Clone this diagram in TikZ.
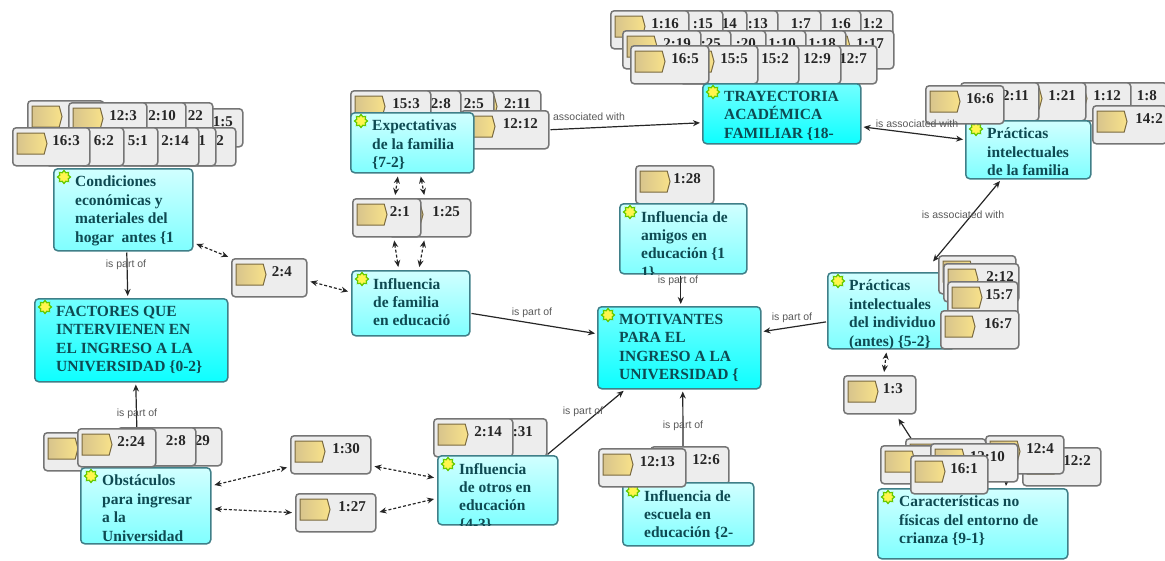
\documentclass[tikz,border=0pt]{standalone}
\usepackage{fontspec}
\setmainfont{Liberation Serif}
\newfontfamily\linkfont{Liberation Sans}
\usetikzlibrary{arrows.meta,backgrounds,shapes.geometric,shapes.symbols}

\definecolor{conceptink}{HTML}{0E4A52}
\definecolor{conceptedge}{HTML}{3F7F88}
\definecolor{quoteedge}{HTML}{757575}
\definecolor{iconedge}{HTML}{7A6A40}
\definecolor{iconleft}{HTML}{D8C48C}
\definecolor{iconright}{HTML}{F8E28A}

\tikzset{
    quotenode/.style={draw=quoteedge, line width=1.5pt, rounded corners=3.5pt, fill=black!7, anchor=north west, minimum height=38pt, inner sep=0pt},
    quoteicon/.style={signal, signal to=east, signal pointer angle=150, draw=iconedge, line width=1pt, left color=iconleft, right color=iconright, minimum width=30pt, minimum height=21pt, inner sep=0pt, anchor=north west},
    quotelabel/.style={font=\bfseries\fontsize{15}{18}\selectfont, text=black!85, anchor=east, inner sep=0pt},
    conceptnode/.style={draw=conceptedge, line width=1.5pt, rounded corners=4pt, anchor=north west, inner sep=0pt},
    conceptsun/.style={star, star points=8, star point ratio=1.4, draw=black!35!green!60!yellow, line width=1.2pt, fill=yellow!70, minimum size=13pt, inner sep=0pt},
    conceptlabel/.style={font=\bfseries\fontsize{15.5}{18.4}\selectfont, text=conceptink, anchor=north west, align=left, inner sep=0pt},
    palecell/.style={top color=cyan!18, bottom color=cyan!50},
    brightcell/.style={top color=cyan!55, bottom color=cyan!95},
    linklabel/.style={font=\linkfont\fontsize{10.5}{12}\selectfont, text=black!65, inner sep=0pt},
    partlink/.style={-{Stealth[length=7pt,width=6pt]}, line width=1.2pt, draw=black!85, shorten >=2pt, shorten <=1pt},
    assoclink/.style={{Stealth[length=7pt,width=6pt]}-{Stealth[length=7pt,width=6pt]}, line width=1.2pt, draw=black!85, shorten >=2pt, shorten <=2pt},
    quotelink/.style={assoclink, densely dashed, shorten >=3pt, shorten <=3pt},
}

% [label gap]{name}{left}{top}{right}{label}
\newcommand{\quotebox}[6][9]{
    \node [quotenode, minimum width={(#5-#3)*1pt}] (#2) at (#3,#4) {};
    \node [quoteicon] (#2i) at (#3+4.5,#4+5.5) {};
    \node [quotelabel] (#2t) at (#5-#1,#4+13.5) {#6};
}
% {name}{left}{top}{right}{bottom}{fill style}{text}
\newcommand{\conceptbox}[7]{
    \node [conceptnode, #6, minimum width={(#4-#2)*1pt}, minimum height={(#5-#3)*1pt}] (#1) at (#2,#3) {};
    \begin{scope}
        \clip [rounded corners=4pt] (#1.south west) rectangle (#1.north east);
        \node [conceptlabel] (#1t) at (#2+22,#3+8) {#7};
    \end{scope}
    \node [conceptsun] (#1s) at (#2+11,#3+9) {};
}

\begin{document}
\begin{tikzpicture}[x=1pt, y=-1pt]
        \useasboundingbox (0,0) rectangle (1165,560);

        % Top row
        \quotebox{qa}{814}{10}{892}{1:2}
        \quotebox{qb}{782}{10}{860}{1:6}
        \quotebox{qc}{742}{10}{820}{1:7}
        \quotebox{qd}{699}{10}{777}{:13}
        \quotebox{qe}{668}{10}{746}{14}
        \quotebox{qf}{644}{10}{722}{:15}
        \quotebox{qg}{610}{10}{688}{1:16}
        \quotebox{qh}{815}{30}{893}{1:17}
        \quotebox{qi}{767}{30}{845}{1:18}
        \quotebox{qj}{727}{30}{805}{1:10}
        \quotebox{qk}{687}{30}{765}{:20}
        \quotebox{ql}{652}{30}{730}{:25}
        \quotebox{qm}{622}{30}{700}{2:19}
        \quotebox{qn}{798}{45}{876}{12:7}
        \quotebox{qo}{762}{45}{840}{12:9}
        \quotebox{qp}{720}{45}{798}{15:2}
        \quotebox{qq}{679}{45}{757}{15:5}
        \quotebox{qr}{630}{45}{708}{16:5}
        \conceptbox{trayectoria}{702}{83}{860}{143}{brightcell}{TRAYECTORIA\\ACADÉMICA\\FAMILIAR \{18-}

        % Left cluster
        \quotebox{ra}{164}{108}{242}{1:5}
        \quotebox{rb}{134}{102}{212}{22}
        \quotebox{rc}{107}{102}{185}{2:10}
        \quotebox{rd}{27}{100}{103}{}
        \quotebox{re}{68}{102}{146}{12:3}
        \quotebox[11]{rf}{157}{127}{235}{2}
        \quotebox{rg}{137}{127}{215}{1}
        \quotebox{rh}{120}{127}{198}{2:14}
        \quotebox{ri}{79}{127}{157}{5:1}
        \quotebox{rj}{45}{127}{123}{6:2}
        \quotebox{rk}{12}{127}{89}{16:3}
        \conceptbox{condiciones}{53}{168}{192}{250}{palecell}{Condiciones\\económicas y\\materiales del\\hogar\ \ antes \{1}
        \conceptbox{factores}{34}{298}{227}{381}{brightcell}{FACTORES QUE\\INTERVIENEN EN\\EL INGRESO A LA\\UNIVERSIDAD \{0-2\}}
        \quotebox[14]{qdos}{231}{258}{306}{2:4}

        % Family cluster
        \quotebox{sa}{462}{90}{540}{2:11}
        \quotebox{sb}{415}{90}{493}{2:5}
        \quotebox{sc}{382}{90}{460}{2:8}
        \quotebox[10]{sd}{350}{90}{430}{15:3}
        \quotebox[10]{se}{460}{110}{548}{12:12}
        \conceptbox{expectativas}{350}{112}{473}{172}{palecell}{Expectativas\\de la familia\\\{7-2\}}
        \quotebox[10]{qcinco}{388}{198}{470}{1:25}
        \quotebox[10]{quno}{352}{198}{420}{2:1}
        \conceptbox{familia}{351}{270}{469}{335}{palecell}{Influencia\\de familia\\en educació}

        % Motivantes
        \quotebox[12]{qamigos}{635}{165}{713}{1:28}
        \conceptbox{amigos}{619}{203}{746}{273}{palecell}{Influencia de\\amigos en\\educación \{1\\1\}}
        \conceptbox{motivantes}{597}{306}{760}{388}{brightcell}{MOTIVANTES\\PARA EL\\INGRESO A LA\\UNIVERSIDAD \{}

        % Right cluster
        \quotebox{ta}{1088}{82}{1166}{1:8}
        \quotebox{tb}{1052}{82}{1130}{1:12}
        \quotebox{tc}{1007}{82}{1085}{1:21}
        \quotebox{td}{960}{82}{1038}{2:11}
        \conceptbox{practicas}{965}{120}{1090}{178}{palecell}{Prácticas\\intelectuales\\de la familia}
        \quotebox{te}{925}{85}{1003}{16:6}
        \quotebox[3]{tf}{1092}{105}{1166}{14:2}
        \conceptbox{individuo}{827}{272}{955}{348}{palecell}{Prácticas\\intelectuales\\del individuo\\(antes) \{5-2\}}
        \quotebox{ua}{938}{255}{1015}{}
        \quotebox[4]{ub}{943}{263}{1018}{2:12}
        \quotebox[4]{uc}{947}{281}{1017}{15:7}
        \quotebox[6]{ud}{940}{310}{1018}{16:7}
        \quotebox[12]{qtres}{843}{375}{915}{1:3}

        % Bottom right
        \quotebox{va}{1022}{447}{1100}{12:2}
        \quotebox{vb}{985}{435}{1063}{12:4}
        \quotebox{vc}{905}{438}{985}{}
        \quotebox{vd}{880}{445}{958}{}
        \quotebox[12]{ve}{930}{443}{1017}{12:10}
        \conceptbox{caracteristicas}{877}{488}{1067}{558}{palecell}{Características no\\físicas del entorno de\\crianza \{9-1\}}
        \quotebox{vf}{910}{455}{987}{16:1}

        % Bottom left
        \quotebox[11]{wa}{143}{427}{221}{29}
        \quotebox{wb}{117}{427}{195}{2:8}
        \quotebox{wc}{43}{432}{120}{}
        \conceptbox{obstaculos}{80}{467}{210}{543}{palecell}{Obstáculos\\para ingresar\\a la\\Universidad}
        \quotebox[10]{wd}{77}{428}{155}{2:24}
        \quotebox[10]{qtreinta}{290}{435}{370}{1:30}
        \quotebox{qsiete}{295}{493}{375}{1:27}

        % Bottom middle
        \quotebox[13]{xa}{468}{418}{546}{:31}
        \quotebox[10]{xb}{433}{418}{512}{2:14}
        \conceptbox{otros}{437}{455}{557}{524}{palecell}{Influencia\\de otros en\\educación\\\{4-3\}}
        \quotebox[8]{xc}{650}{446}{728}{12:6}
        \conceptbox{escuela}{622}{482}{753}{545}{palecell}{Influencia de\\escuela en\\educación \{2-}
        \quotebox[10]{xd}{598}{448}{685}{12:13}

        % Links stay under the boxes
        \begin{pgfonlayer}{background}
            \draw [partlink] ([xshift=3.5pt]condiciones.south) -- ([xshift=-3.5pt]factores.north);
            \draw [partlink] ([xshift=-8pt]obstaculos.north) -- ([xshift=4.5pt]factores.south);
            \draw [partlink] ([xshift=49pt]otros.north) -- ([xshift=-54pt]motivantes.south);
            \draw [partlink] ([xshift=-5pt]escuela.north) -- ([xshift=3.5pt]motivantes.south);
            \draw [partlink] ([xshift=-2.5pt]amigos.south) -- ([xshift=1.5pt]motivantes.north);
            \draw [partlink] ([yshift=-10pt]familia.east) -- ([yshift=14pt]motivantes.west);
            \draw [partlink] ([yshift=-11pt]individuo.west) -- ([yshift=16pt]motivantes.east);
            \draw [partlink] (se.east) -- ([yshift=-9pt]trayectoria.west);
            \draw [assoclink] ([yshift=-13pt]trayectoria.east) -- ([yshift=10pt]practicas.west);
            \draw [assoclink] ([xshift=-27pt]practicas.south) -- ([xshift=40pt,yshift=9pt]individuo.north);

            \draw [quotelink] ([yshift=-33pt]condiciones.east) -- (qdos.north west);
            \draw [quotelink] ([yshift=-3pt]qdos.east) -- ([yshift=11pt]familia.west);
            \draw [quotelink] ([xshift=-14pt]expectativas.south) -- ([xshift=8pt]quno.north);
            \draw [quotelink] ([xshift=8pt]expectativas.south) -- ([xshift=-5pt]qcinco.north);
            \draw [quotelink] ([xshift=7pt]quno.south) -- ([xshift=-12pt]familia.north);
            \draw [quotelink] ([xshift=-5pt]qcinco.south) -- ([xshift=8pt]familia.north);
            \draw [quotelink] ([xshift=4pt]qtres.north) -- ([xshift=-5pt]individuo.south);
            \draw [assoclink, shorten <=5pt] ([xshift=16pt]qtres.south) -- ([xshift=-30pt]caracteristicas.north);
            \draw [partlink] ([xshift=32pt]ve.south) -- ([xshift=33pt]caracteristicas.north);
            \draw [quotelink] ([yshift=20pt]obstaculos.east) -- ([yshift=-12pt]qtreinta.west);
            \draw [quotelink] ([yshift=-3pt]obstaculos.east) -- (qsiete.west);
            \draw [quotelink] ([yshift=-11pt]qtreinta.east) -- ([yshift=12pt]otros.west);
            \draw [quotelink] (qsiete.east) -- ([yshift=-8pt]otros.west);
        \end{pgfonlayer}

        % Link labels
        \node [linklabel] (la) at (126,265) {is part of};
        \node [linklabel] (lb) at (137,414) {is part of};
        \node [linklabel] (lc) at (583,412) {is part of};
        \node [linklabel] (ld) at (683,426) {is part of};
        \node [linklabel] (le) at (678,281) {is part of};
        \node [linklabel] (lf) at (532,313) {is part of};
        \node [linklabel] (lg) at (792,318) {is part of};
        \node [linklabel] (lh) at (589,117) {associated with};
        \node [linklabel] (li) at (917,124) {is associated with};
        \node [linklabel] (lj) at (963,215) {is associated with};
\end{tikzpicture}
\end{document}
